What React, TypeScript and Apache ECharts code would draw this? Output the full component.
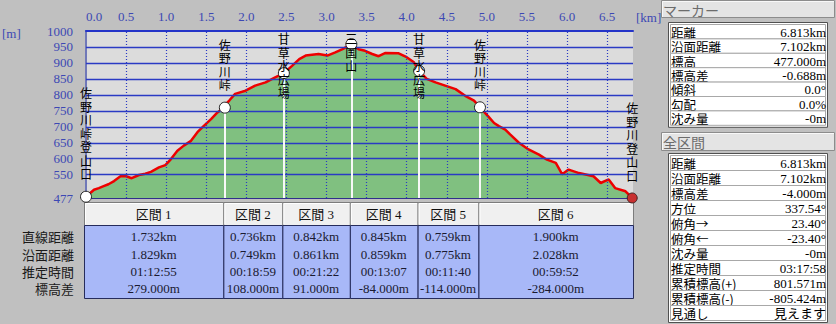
import React, { useEffect, useRef } from 'react';
import * as echarts from 'echarts';

// Elevation profile (km, m)
const profileKm = [0, 0.05, 0.10, 0.16, 0.22, 0.28, 0.35, 0.43, 0.50, 0.57, 0.66, 0.74, 0.81, 0.91, 0.99, 1.06, 1.14, 1.22, 1.31, 1.39, 1.47, 1.56, 1.64, 1.71, 1.732, 1.76, 1.79, 1.86, 1.99, 2.11, 2.24, 2.36, 2.468, 2.57, 2.66, 2.74, 2.90, 3.01, 3.11, 3.20, 3.31, 3.40, 3.48, 3.57, 3.65, 3.73, 3.90, 4.00, 4.09, 4.155, 4.25, 4.36, 4.48, 4.61, 4.73, 4.84, 4.914, 5.02, 5.09, 5.15, 5.23, 5.29, 5.40, 5.52, 5.65, 5.75, 5.86, 5.94, 6.02, 6.15, 6.33, 6.42, 6.52, 6.60, 6.73, 6.813];
const profileElev = [481, 492, 503, 508, 514, 520, 530, 545, 545, 539, 549, 553, 559, 573, 580, 599, 625, 641, 656, 683, 703, 724, 745, 758, 760, 775, 783, 803, 813, 829, 839, 855, 868, 891, 912, 923, 928, 923, 933, 943, 959, 943, 938, 928, 921, 931, 930, 918, 902, 875, 850, 839, 829, 818, 797, 782, 761, 732, 712, 702, 691, 676, 650, 629, 613, 597, 587, 551, 566, 555, 545, 524, 535, 508, 498, 477];

const waypointKm = [0, 1.732, 2.468, 3.310, 4.155, 4.914, 6.813];
const waypointElev = [481, 760, 868, 959, 875, 761, 477];
const waypointNames = ['佐野川峠登山口', '佐野川峠', '甘草水広場', '三国山', '甘草水広場', '佐野川峠', '佐野川登山口'];

const xTicks = [0, 0.5, 1.0, 1.5, 2.0, 2.5, 3.0, 3.5, 4.0, 4.5, 5.0, 5.5, 6.0, 6.5];
const yTicks = [477, 550, 600, 650, 700, 750, 800, 850, 900, 950, 1000];

const sectionNames = ['区間 1', '区間 2', '区間 3', '区間 4', '区間 5', '区間 6'];
const straightDist = ['1.732km', '0.736km', '0.842km', '0.845km', '0.759km', '1.900km'];
const surfaceDist = ['1.829km', '0.749km', '0.861km', '0.859km', '0.775km', '2.028km'];
const estTime = ['01:12:55', '00:18:59', '00:21:22', '00:13:07', '00:11:40', '00:59:52'];
const elevDiff = ['279.000m', '108.000m', '91.000m', '-84.000m', '-114.000m', '-284.000m'];
const rowLabels = ['直線距離', '沿面距離', '推定時間', '標高差'];

const markerLabels = ['距離', '沿面距離', '標高', '標高差', '傾斜', '勾配', '沈み量'];
const markerValues = ['6.813km', '7.102km', '477.000m', '-0.688m', '0.0°', '0.0%', '-0m'];
const totalLabels = ['距離', '沿面距離', '標高差', '方位', '俯角→', '俯角←', '沈み量', '推定時間', '累積標高(+)', '累積標高(-)', '見通し'];
const totalValues = ['6.813km', '7.102km', '-4.000m', '337.54°', '23.40°', '-23.40°', '-0m', '03:17:58', '801.571m', '-805.424m', '見えます'];

const X_MAX = 6.823;
const Y_MIN = 477;
const Y_MAX = 1000;
const SERIF = '"Liberation Serif", "Noto Sans CJK JP", serif';
const CJK = '"Noto Sans CJK JP", sans-serif';
const AXIS_BLUE = '#3c48b4';
const GRID_BLUE = '#2a3ac4';

export default function App() {
  const ref = useRef<HTMLDivElement>(null);

  useEffect(() => {
    document.body.style.margin = '0';
    const chart = echarts.init(ref.current!, null, { renderer: 'svg' });
    const profile = profileKm.map((k, i) => [k, profileElev[i]]);

    const option: any = {
      animation: false,
      backgroundColor: '#c0c0c0',
      grid: { left: 86, top: 31, width: 547, height: 167, show: true, backgroundColor: '#dcdcdc', borderWidth: 0 },
      xAxis: [
        {
          type: 'value', position: 'top', min: 0, max: X_MAX, interval: 0.5,
          axisLine: { show: true, onZero: false, lineStyle: { color: '#2434c8', width: 2 } },
          axisTick: { show: false },
          splitLine: { show: false },
          axisLabel: {
            color: AXIS_BLUE, fontFamily: SERIF, fontSize: 13, margin: 8,
            showMaxLabel: false, alignMinLabel: 'left',
            formatter: (v: number) => v.toFixed(1),
          },
        },
        {
          type: 'value', position: 'bottom', min: 0, max: X_MAX,
          axisLine: { show: true, onZero: false, lineStyle: { color: '#30308c', width: 2 } },
          axisTick: { show: false }, axisLabel: { show: false }, splitLine: { show: false },
        },
      ],
      yAxis: [
        {
          type: 'value', min: Y_MIN, max: Y_MAX,
          axisLine: { show: true, lineStyle: { color: GRID_BLUE, width: 1 } },
          axisTick: { show: false },
          splitLine: { show: false },
          axisLabel: {
            customValues: yTicks, color: AXIS_BLUE, fontFamily: SERIF, fontSize: 13, margin: 13,
            formatter: (v: number) => String(Math.round(v)),
          },
        },
        {
          type: 'value', position: 'right', min: Y_MIN, max: Y_MAX,
          axisLine: { show: true, lineStyle: { color: '#7078b8', width: 2 } },
          axisTick: { show: false }, axisLabel: { show: false }, splitLine: { show: false },
        },
      ],
      series: [
        {
          type: 'line', data: profile, showSymbol: false, z: 1, silent: true,
          lineStyle: { width: 0 },
          areaStyle: { color: '#80c080', opacity: 1, origin: 'start' },
        },
        {
          type: 'line', data: [[0, Y_MIN]], showSymbol: false, z: 2, silent: true,
          lineStyle: { width: 0 },
          markLine: {
            symbol: 'none', silent: true, animation: false, label: { show: false },
            data: [
              ...yTicks.filter((v) => v > Y_MIN && v < Y_MAX).map((v) => ({ yAxis: v, lineStyle: { color: GRID_BLUE, width: 1.4, type: 'solid', opacity: 1 } })),
              ...xTicks.filter((v) => v > 0).map((v) => ({ xAxis: v, lineStyle: { color: GRID_BLUE, width: 1.2, type: [1, 2], opacity: 1 } })),
            ],
          },
        },
        {
          type: 'line', data: profile, showSymbol: false, z: 3, silent: true,
          lineStyle: { color: '#ee0000', width: 2.5 },
        },
        {
          type: 'line', data: [[0, Y_MIN]], showSymbol: false, z: 4, silent: true,
          lineStyle: { width: 0 },
          markLine: {
            symbol: 'none', silent: true, animation: false, label: { show: false },
            lineStyle: { color: '#f8f8f8', width: 2, type: 'solid', opacity: 1 },
            data: waypointKm.slice(1, -1).map((k, i) => [{ coord: [k, waypointElev[i + 1]] }, { coord: [k, Y_MIN] }]),
          },
        },
        {
          type: 'scatter', z: 5, clip: false, silent: true,
          data: waypointKm.slice(0, -1).map((k, i) => [k, waypointElev[i]]),
          symbol: 'circle', symbolSize: 11,
          itemStyle: { color: '#ffffff', borderColor: '#202020', borderWidth: 1, opacity: 1 },
        },
        {
          type: 'scatter', z: 5, clip: false, silent: true,
          data: [[waypointKm[6], waypointElev[6]]],
          symbol: 'circle', symbolSize: 10,
          itemStyle: { color: '#c83030', borderColor: '#402020', borderWidth: 1, opacity: 1 },
        },
      ],
    };
    chart.setOption(option);

    const px = (x: number, y: number) => chart.convertToPixel({ xAxisIndex: 0, yAxisIndex: 0 }, [x, y]) as number[];
    const graphics: any[] = [];

    // unit labels
    graphics.push({ type: 'text', x: 2, y: 33, style: { text: '[m]', fill: AXIS_BLUE, font: `13px ${SERIF}`, verticalAlign: 'middle' } });
    graphics.push({ type: 'text', x: 636, y: 17, style: { text: '[km]', fill: AXIS_BLUE, font: `13px ${SERIF}`, verticalAlign: 'middle' } });

    // waypoint labels (vertical)
    const topLimit = px(0, Y_MAX)[1] + 1;
    const lh = 13.5;
    waypointNames.forEach((name, i) => {
      const [cx, cy] = px(waypointKm[i], waypointElev[i]);
      const h = name.length * lh;
      let top = cy - 16 - h;
      if (top < topLimit) top = topLimit;
      graphics.push({
        type: 'text', x: cx, y: top, z: 10,
        style: { text: name.split('').join('\n'), fill: '#000000', font: `12px ${CJK}`, lineHeight: lh, align: 'center', verticalAlign: 'top' },
      });
    });

    // section table
    const left = px(0, Y_MIN)[0];
    const right = px(X_MAX, Y_MIN)[0];
    const edges = waypointKm.map((k, i) => (i === 0 ? left - 2 : i === waypointKm.length - 1 ? right : px(k, Y_MIN)[0] - 1.5));
    const headTop = 202, headH = 23, dataTop = 225, dataH = 73;
    const rowY = [236, 254, 271, 288];
    const cols = [straightDist, surfaceDist, estTime, elevDiff];
    sectionNames.forEach((name, i) => {
      const x0 = edges[i], x1 = edges[i + 1];
      graphics.push({ type: 'rect', shape: { x: x0 + 0.5, y: headTop + 0.5, width: x1 - x0, height: headH }, style: { fill: '#f0f0f0', stroke: '#7c7c7c', lineWidth: 1 } });
      graphics.push({ type: 'polyline', shape: { points: [[x0 + 1.5, headTop + headH - 0.5], [x0 + 1.5, headTop + 1.5], [x1 - 0.5, headTop + 1.5]] }, style: { stroke: '#ffffff', lineWidth: 1, fill: null } });
      graphics.push({ type: 'text', x: (x0 + x1) / 2, y: headTop + headH / 2 + 1, style: { text: name, fill: '#101010', font: `13px ${SERIF}`, align: 'center', verticalAlign: 'middle' } });
      graphics.push({ type: 'rect', shape: { x: x0 + 0.5, y: dataTop + 0.5, width: x1 - x0, height: dataH }, style: { fill: '#a8b8f8', stroke: '#262c5c', lineWidth: 1 } });
      cols.forEach((col, r) => {
        graphics.push({ type: 'text', x: (x0 + x1) / 2, y: rowY[r], style: { text: col[i], fill: '#1a1a30', font: `13px ${SERIF}`, align: 'center', verticalAlign: 'middle' } });
      });
    });
    rowLabels.forEach((lab, r) => {
      graphics.push({ type: 'text', x: 74, y: rowY[r], style: { text: lab, fill: '#1a1a1a', font: `13px ${CJK}`, align: 'right', verticalAlign: 'middle' } });
    });

    // right panel
    const panel = (title: string, hy: number, hh: number, ty: number, rowH: number, labels: string[], values: string[]) => {
      graphics.push({ type: 'rect', shape: { x: 661.5, y: hy + 0.5, width: 173, height: hh }, style: { fill: '#e4e4e4', stroke: '#8c8c8c', lineWidth: 1 } });
      graphics.push({ type: 'polyline', shape: { points: [[662.5, hy + hh], [662.5, hy + 1.5], [834, hy + 1.5]] }, style: { stroke: '#f8f8f8', lineWidth: 1, fill: null } });
      graphics.push({ type: 'text', x: 663, y: hy + hh / 2 + 1, style: { text: title, fill: '#6c6c6c', font: `14px ${CJK}`, verticalAlign: 'middle' } });
      const tableH = labels.length * rowH + 4;
      graphics.push({ type: 'rect', shape: { x: 668.5, y: ty + 0.5, width: 159, height: tableH }, style: { fill: '#ffffff', stroke: '#505050', lineWidth: 1 } });
      labels.forEach((lab, i) => {
        const ry = ty + 2 + i * rowH;
        graphics.push({ type: 'rect', shape: { x: 670.5, y: ry + 0.5, width: 155, height: rowH }, style: { fill: '#ffffff', stroke: '#a8a8a8', lineWidth: 1 } });
        graphics.push({ type: 'text', x: 671, y: ry + rowH / 2 + 1, style: { text: lab, fill: '#000000', font: `12.5px ${CJK}`, lineHeight: rowH, verticalAlign: 'middle' } });
        graphics.push({ type: 'text', x: 826, y: ry + rowH / 2 + 1, style: { text: values[i], fill: '#000000', font: `13px ${SERIF}`, lineHeight: rowH, align: 'right', verticalAlign: 'middle' } });
      });
    };
    panel('マーカー', 0, 17, 22, 14.4, markerLabels, markerValues);
    panel('全区間', 132, 18, 153, 15, totalLabels, totalValues);

    chart.setOption({ graphic: { elements: graphics } });

    return () => chart.dispose();
  }, []);

  return <div ref={ref} style={{ position: 'absolute', left: 0, top: 0, width: 836, height: 324 }} />;
}
